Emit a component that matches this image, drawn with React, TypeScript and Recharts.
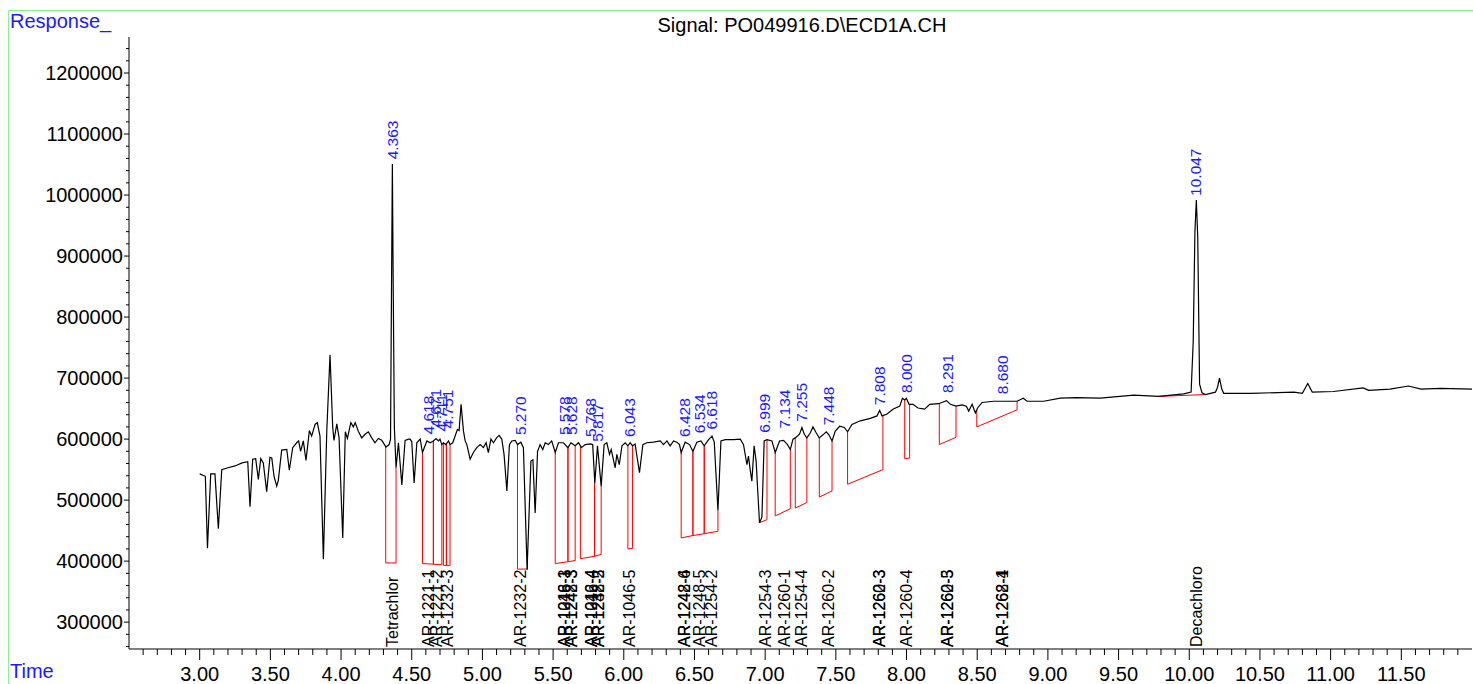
import React from 'react';
import { LineChart, Line, XAxis, YAxis, ReferenceLine, ReferenceDot } from 'recharts';

// Chromatogram trace: [retention time (min), response]
const trace: [number, number][] = [
  [3.0, 543000], [3.04, 539000], [3.055, 421000], [3.078, 543000], [3.108, 543000], [3.132, 453000],
  [3.156, 550000], [3.2, 553000], [3.25, 556000], [3.3, 561000], [3.34, 563000], [3.356, 489000],
  [3.375, 567000], [3.396, 568000], [3.415, 534000], [3.432, 568000], [3.45, 561000], [3.474, 514000],
  [3.497, 570000], [3.51, 569000], [3.526, 539000], [3.545, 523000], [3.556, 532000], [3.58, 582000],
  [3.616, 583000], [3.634, 549000], [3.658, 586000], [3.686, 594000], [3.7, 597000], [3.714, 580000],
  [3.733, 597000], [3.752, 565000], [3.776, 614000], [3.792, 605000], [3.816, 624000], [3.832, 627000],
  [3.851, 605000], [3.875, 403000], [3.899, 613000], [3.922, 738000], [3.941, 619000], [3.95, 598000],
  [3.97, 625000], [3.986, 602000], [4.012, 438000], [4.03, 612000], [4.045, 601000], [4.069, 627000],
  [4.087, 620000], [4.1, 627000], [4.122, 613000], [4.146, 602000], [4.17, 608000], [4.193, 612000],
  [4.217, 602000], [4.24, 594000], [4.264, 601000], [4.288, 598000], [4.318, 587000], [4.34, 591000],
  [4.35, 600000], [4.357, 850000], [4.363, 1051000], [4.369, 850000], [4.377, 620000], [4.389, 553000],
  [4.406, 594000], [4.43, 525000], [4.453, 598000], [4.477, 600000], [4.488, 600000], [4.5, 596000],
  [4.517, 528000], [4.536, 594000], [4.56, 600000], [4.576, 578000], [4.607, 597000], [4.63, 594000],
  [4.653, 597000], [4.672, 601000], [4.689, 597000], [4.7, 600000], [4.713, 591000], [4.724, 594000],
  [4.741, 591000], [4.76, 597000], [4.771, 591000], [4.79, 594000], [4.807, 605000], [4.823, 616000],
  [4.835, 614000], [4.849, 657000], [4.866, 613000], [4.878, 597000], [4.89, 591000], [4.913, 567000],
  [4.936, 578000], [4.96, 586000], [4.984, 591000], [5.007, 586000], [5.026, 594000], [5.042, 578000],
  [5.06, 600000], [5.078, 594000], [5.1, 602000], [5.118, 606000], [5.137, 600000], [5.153, 575000],
  [5.173, 515000], [5.191, 591000], [5.208, 597000], [5.232, 598000], [5.248, 591000], [5.272, 595000],
  [5.29, 586000], [5.316, 386000], [5.343, 564000], [5.357, 566000], [5.373, 479000], [5.39, 580000],
  [5.408, 591000], [5.427, 583000], [5.444, 594000], [5.467, 591000], [5.49, 597000], [5.515, 578000],
  [5.538, 594000], [5.573, 594000], [5.605, 586000], [5.626, 594000], [5.656, 589000], [5.68, 594000],
  [5.7, 586000], [5.727, 591000], [5.763, 592000], [5.78, 591000], [5.795, 528000], [5.814, 589000],
  [5.84, 523000], [5.861, 591000], [5.88, 594000], [5.899, 575000], [5.911, 583000], [5.923, 570000],
  [5.939, 553000], [5.951, 575000], [5.968, 558000], [5.987, 589000], [6.01, 594000], [6.029, 589000],
  [6.045, 594000], [6.062, 589000], [6.08, 592000], [6.111, 545000], [6.135, 591000], [6.163, 594000],
  [6.21, 595000], [6.258, 597000], [6.281, 591000], [6.305, 597000], [6.328, 589000], [6.352, 597000],
  [6.375, 595000], [6.394, 591000], [6.406, 578000], [6.434, 595000], [6.465, 591000], [6.489, 580000],
  [6.517, 595000], [6.545, 597000], [6.569, 589000], [6.6, 599000], [6.624, 605000], [6.64, 595000],
  [6.666, 483000], [6.687, 597000], [6.718, 599000], [6.776, 599000], [6.824, 600000], [6.847, 591000],
  [6.871, 558000], [6.882, 572000], [6.894, 550000], [6.906, 531000], [6.922, 589000], [6.936, 564000],
  [6.96, 463000], [6.977, 472000], [6.993, 597000], [7.013, 599000], [7.048, 597000], [7.071, 578000],
  [7.102, 597000], [7.13, 598000], [7.158, 591000], [7.178, 583000], [7.197, 600000], [7.213, 602000],
  [7.243, 608000], [7.26, 619000], [7.277, 608000], [7.295, 602000], [7.319, 610000], [7.338, 620000],
  [7.362, 610000], [7.383, 602000], [7.409, 607000], [7.432, 612000], [7.451, 607000], [7.473, 597000],
  [7.496, 613000], [7.527, 621000], [7.56, 619000], [7.583, 612000], [7.614, 624000], [7.673, 630000],
  [7.744, 634000], [7.791, 638000], [7.81, 647000], [7.827, 638000], [7.862, 641000], [7.904, 649000],
  [7.952, 654000], [7.971, 667000], [7.987, 664000], [7.999, 667000], [8.018, 657000], [8.046, 657000],
  [8.081, 651000], [8.128, 649000], [8.164, 657000], [8.227, 658000], [8.283, 663000], [8.311, 657000],
  [8.35, 654000], [8.393, 656000], [8.423, 654000], [8.44, 646000], [8.464, 657000], [8.487, 643000],
  [8.503, 651000], [8.534, 660000], [8.616, 662000], [8.711, 662000], [8.782, 662000], [8.825, 667000],
  [8.853, 662000], [8.97, 662000], [9.088, 667000], [9.2, 668000], [9.37, 667000], [9.607, 672000],
  [9.784, 670000], [9.96, 674000], [10.013, 677000], [10.028, 760000], [10.04, 940000], [10.05, 992000],
  [10.06, 930000], [10.073, 690000], [10.09, 676000], [10.115, 673000], [10.185, 677000], [10.2, 685000],
  [10.214, 700000], [10.23, 682000], [10.244, 675000], [10.433, 675000], [10.74, 677000], [10.8, 675000],
  [10.838, 691000], [10.87, 677000], [11.02, 678000], [11.23, 684000], [11.27, 680000], [11.42, 682000],
  [11.55, 687000], [11.64, 682000], [11.78, 683000], [12.0, 682000],
];

// Integrated peaks: retention time labels and apex response
const peakTimes = [4.363, 4.618, 4.671, 4.711, 4.751, 5.27, 5.578, 5.628, 5.768, 5.817, 6.043, 6.428,
  6.534, 6.618, 6.999, 7.134, 7.255, 7.448, 7.808, 8.0, 8.291, 8.68, 10.047];
const peakApex = [1052000, 601000, 612000, 606000, 611000, 600000, 600000, 600000, 597000, 589000, 597000,
  597000, 603000, 609000, 604000, 611000, 622000, 616000, 649000, 669000, 669000, 667000, 992000];

// Compound names at the bottom
const compoundTimes = [4.363, 4.618, 4.671, 4.751, 5.27, 5.578, 5.578, 5.628, 5.628, 5.768, 5.768, 5.817,
  5.817, 6.043, 6.428, 6.428, 6.534, 6.618, 6.999, 7.134, 7.255, 7.448, 7.808, 7.808, 8.0, 8.291, 8.291,
  8.68, 8.68, 10.047];
const compoundNames = ['Tetrachlor', 'AR-1221-1', 'AR-1221-2', 'AR-1232-3', 'AR-1232-2', 'AR-1016-3',
  'AR-1248-1', 'AR-1242-3', 'AR-1248-3', 'AR-1242-4', 'AR-1016-4', 'AR-1232-5', 'AR-1248-2', 'AR-1046-5',
  'AR-1242-6', 'AR-1248-4', 'AR-1248-5', 'AR-1254-2', 'AR-1254-3', 'AR-1260-1', 'AR-1254-4', 'AR-1260-2',
  'AR-1260-3', 'AR-1262-3', 'AR-1260-4', 'AR-1260-5', 'AR-1262-3', 'AR-1262-4', 'AR-1268-1', 'Decachloro'];

// Integration baselines (red)
const intStart = [4.316, 4.576, 4.653, 4.724, 4.745, 5.248, 5.515, 5.605, 5.693, 5.793, 6.029, 6.406,
  6.489, 6.569, 6.96, 7.071, 7.213, 7.383, 7.583, 7.987, 8.232, 8.497, 9.784];
const intEnd = [4.389, 4.653, 4.713, 4.745, 4.771, 5.319, 5.605, 5.656, 5.793, 5.84, 6.062, 6.489,
  6.569, 6.666, 7.013, 7.178, 7.295, 7.473, 7.833, 8.022, 8.35, 8.782, 10.115];
const intBaseStart = [397000, 396000, 395000, 393000, 393000, 387000, 396000, 399000, 404000, 408000,
  420000, 438000, 442000, 445000, 463000, 474000, 487000, 505000, 526000, 568000, 591000, 620000, 670000];
const intBaseEnd = [397000, 395000, 394000, 393000, 393000, 387000, 399000, 401000, 408000, 411000,
  421000, 442000, 445000, 449000, 468000, 486000, 496000, 515000, 550000, 569000, 603000, 648000, 673000];

const xMajorTicks = [3.0, 3.5, 4.0, 4.5, 5.0, 5.5, 6.0, 6.5, 7.0, 7.5, 8.0, 8.5, 9.0, 9.5, 10.0, 10.5, 11.0, 11.5];
const yMajorTicks = [300000, 400000, 500000, 600000, 700000, 800000, 900000, 1000000, 1100000, 1200000];

const X_DOMAIN: [number, number] = [2.5, 12.0];
const Y_DOMAIN: [number, number] = [256000, 1259000];
const AXIS_X = 129;
const AXIS_Y = 649;
const FONT = "'Liberation Sans', Arial, sans-serif";

const xMinor: number[] = [];
for (let k = 26; k < 120; k++) if (k % 5 !== 0) xMinor.push(k / 10);
const yMinor: number[] = [];
for (let v = 260000; v <= 1240000; v += 20000) if (v % 100000 !== 0) yMinor.push(v);

const xTicks = [...xMajorTicks, ...xMinor].sort((a, b) => a - b);
const yTicks = [...yMajorTicks, ...yMinor].sort((a, b) => a - b);

const data = trace.map(([t, v]) => ({ t, v }));

function traceAt(t: number): number {
  for (let i = 0; i < trace.length - 1; i++) {
    const [t0, v0] = trace[i];
    const [t1, v1] = trace[i + 1];
    if (t >= t0 && t <= t1) return v0 + ((v1 - v0) * (t - t0)) / (t1 - t0);
  }
  return trace[trace.length - 1][1];
}

const YTick = (props: any) => {
  const { y, payload } = props;
  const v = payload.value;
  const major = v % 100000 === 0;
  return (
    <g>
      <line x1={AXIS_X - (major ? 5 : 3)} x2={AXIS_X} y1={y} y2={y} stroke="#000" />
      {major && (
        <text x={AXIS_X - 6} y={y} dy="0.35em" textAnchor="end" fontSize={20} fontFamily={FONT} fill="#000">
          {v}
        </text>
      )}
    </g>
  );
};

const XTick = (props: any) => {
  const { x, payload } = props;
  const v = payload.value;
  const major = Math.abs(v * 2 - Math.round(v * 2)) < 1e-6;
  return (
    <g>
      <line x1={x} x2={x} y1={AXIS_Y} y2={AXIS_Y + (major ? 11 : 6)} stroke="#000" />
      {major && (
        <text x={x} y={681} textAnchor="middle" fontSize={20} fontFamily={FONT} fill="#000">
          {v.toFixed(2)}
        </text>
      )}
    </g>
  );
};

export default function App() {
  const redSegs: { a: { x: number; y: number }; b: { x: number; y: number } }[] = [];
  intStart.forEach((s, i) => {
    const e = intEnd[i];
    const ts = traceAt(s);
    const te = traceAt(e);
    redSegs.push({ a: { x: s, y: ts }, b: { x: s, y: intBaseStart[i] } });
    redSegs.push({ a: { x: s, y: intBaseStart[i] }, b: { x: e, y: intBaseEnd[i] } });
    redSegs.push({ a: { x: e, y: intBaseEnd[i] }, b: { x: e, y: te } });
  });

  return (
    <div style={{ position: 'absolute', left: 0, top: 0, width: 1473, height: 684, background: '#fff', overflow: 'hidden' }}>
      <div style={{ position: 'absolute', left: 0, top: 0 }}>
        <LineChart width={1473} height={684} data={data} margin={{ top: 37, right: 1, bottom: 0, left: 0 }}>
          <XAxis
            dataKey="t"
            type="number"
            domain={X_DOMAIN}
            allowDataOverflow
            ticks={xTicks}
            interval={0}
            tick={<XTick />}
            tickLine={false}
            tickSize={0}
            tickMargin={0}
            height={35}
            axisLine={{ stroke: '#000' }}
          />
          <YAxis
            type="number"
            domain={Y_DOMAIN}
            allowDataOverflow
            ticks={yTicks}
            interval={0}
            tick={<YTick />}
            tickLine={false}
            tickSize={0}
            tickMargin={0}
            width={129}
            axisLine={{ stroke: '#000' }}
          />
          {redSegs.map((sg, i) => (
            <ReferenceLine key={'r' + i} segment={[sg.a, sg.b]} stroke="#ff0000" strokeWidth={1} ifOverflow="visible" />
          ))}
          <Line
            type="linear"
            dataKey="v"
            stroke="#000"
            strokeWidth={1.2}
            dot={false}
            activeDot={false}
            isAnimationActive={false}
          />
          {peakTimes.map((t, i) => (
            <ReferenceDot
              key={'p' + i}
              x={t}
              y={peakApex[i]}
              r={0}
              ifOverflow="visible"
              shape={(p: any) => (
                <text
                  x={p.cx}
                  y={p.cy - 4}
                  transform={`rotate(-90 ${p.cx} ${p.cy - 4})`}
                  dy="0.35em"
                  textAnchor="start"
                  fontSize={15.5}
                  fontFamily={FONT}
                  fill="#1a1aff"
                >
                  {t.toFixed(3)}
                </text>
              )}
            />
          ))}
          {compoundTimes.map((t, i) => (
            <ReferenceDot
              key={'c' + i}
              x={t}
              y={Y_DOMAIN[0]}
              r={0}
              ifOverflow="visible"
              shape={(p: any) => (
                <text
                  x={p.cx}
                  y={p.cy - 2}
                  transform={`rotate(-90 ${p.cx} ${p.cy - 2})`}
                  dy="0.35em"
                  textAnchor="start"
                  fontSize={16}
                  fontFamily={FONT}
                  fill="#000"
                >
                  {compoundNames[i]}
                </text>
              )}
            />
          ))}
        </LineChart>
      </div>
      <svg width={1473} height={684} style={{ position: 'absolute', left: 0, top: 0, pointerEvents: 'none' }}>
        <line x1={8.5} y1={10.5} x2={1473} y2={10.5} stroke="#90ee90" strokeWidth={1} />
        <line x1={8.5} y1={10.5} x2={8.5} y2={684} stroke="#90ee90" strokeWidth={1} />
        <text x={10} y={28} fontSize={20} fontFamily={FONT} fill="#1a1aff">Response_</text>
        <text x={10} y={678} fontSize={20} fontFamily={FONT} fill="#1a1aff">Time</text>
        <text x={802} y={32} textAnchor="middle" fontSize={20} fontFamily={FONT} fill="#000">
          {'Signal: PO049916.D\\ECD1A.CH'}
        </text>
      </svg>
    </div>
  );
}
